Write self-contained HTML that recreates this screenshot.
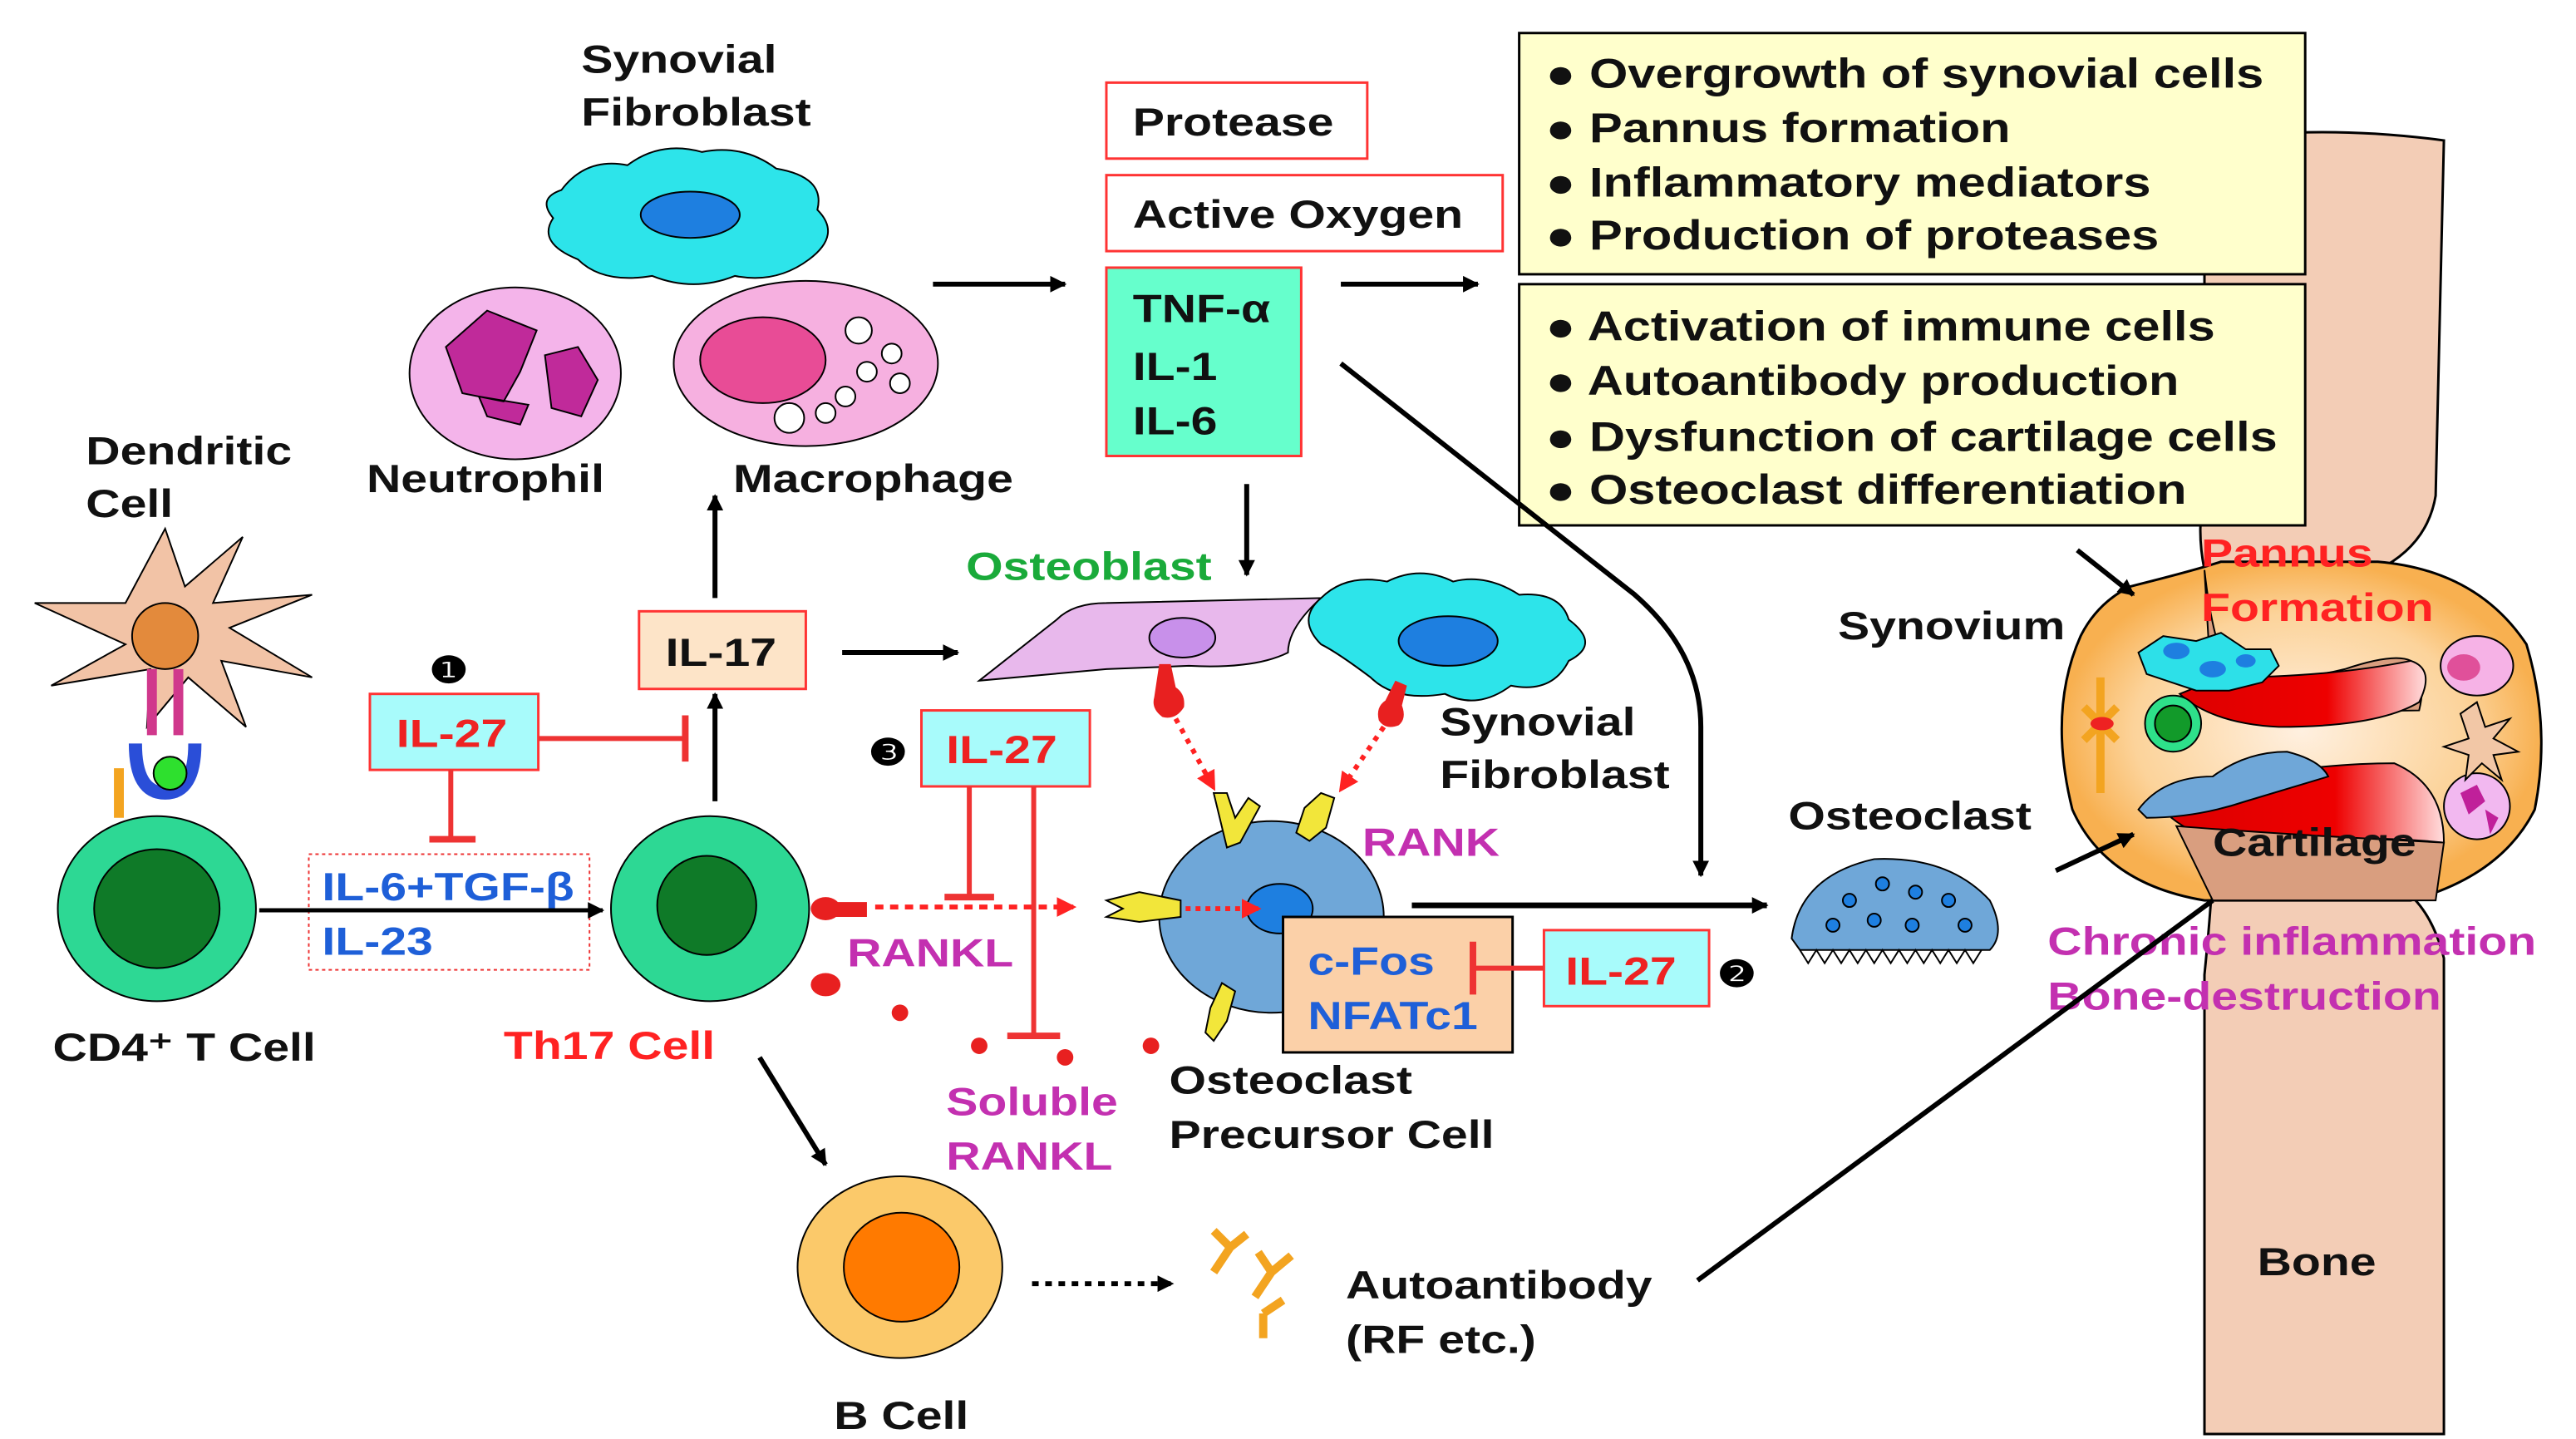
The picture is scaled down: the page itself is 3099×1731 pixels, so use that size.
<!DOCTYPE html>
<html><head><meta charset="utf-8"><style>
html,body{margin:0;padding:0;background:#fff;}
svg{display:block;}
text{font-family:"Liberation Sans",Arial,sans-serif;font-weight:bold;transform-box:fill-box;transform-origin:left center;transform:scaleX(1.2);}
</style></head><body>
<svg width="3099" height="1731" viewBox="0 0 1560 871" preserveAspectRatio="none" xmlns="http://www.w3.org/2000/svg">
<defs>
<marker id="ab" markerWidth="10" markerHeight="10" refX="9" refY="5" orient="auto" markerUnits="userSpaceOnUse"><path d="M0,0 L10,5 L0,10 z" fill="#000"/></marker>
<marker id="ar" markerWidth="12" markerHeight="12" refX="10" refY="6" orient="auto" markerUnits="userSpaceOnUse"><path d="M0,0 L12,6 L0,12 z" fill="#f22"/></marker>
<linearGradient id="red" x1="0" x2="1"><stop offset="0" stop-color="#d00"/><stop offset="0.6" stop-color="#e00"/><stop offset="1" stop-color="#fdd"/></linearGradient>
<radialGradient id="jt" cx="0.5" cy="0.5" r="0.5"><stop offset="0" stop-color="#fff0e0"/><stop offset="0.7" stop-color="#fcd39a"/><stop offset="1" stop-color="#f8b050"/></radialGradient>
</defs>

<!-- Bone -->
<path d="M1335,85 Q1405,75 1480,85 L1475,300 Q1470,330 1440,345 L1440,530 Q1470,540 1480,580 L1480,868 L1335,868 L1335,590 Q1340,540 1340,520 L1335,345 Q1330,320 1335,300 Z" fill="#f3cdb6" stroke="#000" stroke-width="1.5"/>
<!-- joint -->
<path d="M1290,355 Q1330,345 1345,340 L1440,340 Q1500,345 1530,390 Q1545,440 1535,490 Q1515,530 1460,545 L1335,545 Q1275,535 1255,490 Q1240,430 1260,385 Q1270,365 1290,355 Z" fill="url(#jt)" stroke="#000" stroke-width="1.5"/>
<path d="M1335,345 Q1340,390 1350,405 Q1380,415 1420,405 Q1450,395 1460,400 Q1470,410 1465,430 L1340,432 Z" fill="#d99e7f" stroke="#000"/>
<path d="M1345,410 Q1410,410 1460,400 Q1475,405 1465,425 Q1440,440 1380,440 Q1340,438 1320,420 Z" fill="url(#red)" stroke="#000"/>
<path d="M1330,475 Q1400,462 1450,462 Q1480,475 1480,510 Q1430,505 1380,510 Q1340,515 1315,495 Z" fill="url(#red)" stroke="#000"/>
<path d="M1318,500 Q1380,505 1480,510 L1475,545 L1340,545 Z" fill="#d99e7f" stroke="#000"/>
<path d="M1295,395 l15,-10 l20,3 l15,-5 l15,10 l15,0 l5,10 l-10,10 l-20,5 l-20,0 l-15,-5 l-15,-5 z" fill="#2de0e8" stroke="#000"/>
<ellipse cx="1318" cy="394" rx="8" ry="5" fill="#1e7fe0"/><ellipse cx="1340" cy="405" rx="8" ry="5" fill="#1e7fe0"/><ellipse cx="1360" cy="400" rx="6" ry="4" fill="#1e7fe0"/>
<path d="M1295,490 Q1310,470 1340,470 Q1360,455 1385,455 Q1405,460 1410,470 L1360,485 Q1330,495 1300,495 Z" fill="#6fa7d8" stroke="#000"/>
<circle cx="1316" cy="438" r="17" fill="#2ee08a" stroke="#000"/><circle cx="1316" cy="438" r="11" fill="#129a2a" stroke="#000"/>
<path d="M1272,410 L1272,480 M1262,428 L1282,448 M1282,428 L1262,448" stroke="#f3a420" stroke-width="5"/>
<ellipse cx="1273" cy="438" rx="7" ry="4" fill="#e22"/>
<ellipse cx="1500" cy="403" rx="22" ry="18" fill="#f6b2e6" stroke="#000"/><ellipse cx="1492" cy="404" rx="10" ry="8" fill="#e0509a"/>
<circle cx="1500" cy="488" r="20" fill="#f2b8f0" stroke="#000"/><path d="M1490,480 l10,-5 l5,10 l-10,8 z M1505,490 l8,5 l-5,10 z" fill="#c0209a"/>
<path d="M1500,425 l5,15 l15,-5 l-10,12 l15,8 l-15,2 l5,15 l-12,-10 l-10,10 l2,-15 l-15,-5 l15,-5 l-5,-15 z" fill="#f2c7a6" stroke="#000"/>
<text x="1333" y="343" font-size="24" fill="#f22">Pannus</text>
<text x="1333" y="376" font-size="24" fill="#f22">Formation</text>
<text x="1340" y="518" font-size="24" fill="#111">Cartilage</text>
<text x="1367" y="772" font-size="24" fill="#111">Bone</text>
<text x="1240" y="578" font-size="24" fill="#c330b0">Chronic inflammation</text>
<text x="1240" y="611" font-size="24" fill="#c330b0">Bone-destruction</text>
<text x="1113" y="387" font-size="24" fill="#111">Synovium</text>
<line x1="1258" y1="333" x2="1292" y2="360" stroke="#000" stroke-width="3" marker-end="url(#ab)"/>
<line x1="1245" y1="527" x2="1292" y2="505" stroke="#000" stroke-width="3" marker-end="url(#ab)"/>
<line x1="1028" y1="775" x2="1340" y2="545" stroke="#000" stroke-width="3"/>

<!-- yellow boxes -->
<rect x="920" y="20" width="476" height="146" fill="#ffffcc" stroke="#000" stroke-width="1.5"/>
<rect x="920" y="172" width="476" height="146" fill="#ffffcc" stroke="#000" stroke-width="1.5"/>
<g font-size="25" fill="#111">
<text x="936" y="53">● Overgrowth of synovial cells</text>
<text x="936" y="86">● Pannus formation</text>
<text x="936" y="119">● Inflammatory mediators</text>
<text x="936" y="151">● Production of proteases</text>
<text x="936" y="206">● Activation of immune cells</text>
<text x="936" y="239">● Autoantibody production</text>
<text x="936" y="273">● Dysfunction of cartilage cells</text>
<text x="936" y="305">● Osteoclast differentiation</text>
</g>

<!-- top middle -->
<text x="352" y="44" font-size="24" fill="#111">Synovial</text>
<text x="352" y="76" font-size="24" fill="#111">Fibroblast</text>
<path d="M340,115 q15,-20 40,-15 q20,-15 45,-8 q25,-5 45,10 q30,5 25,25 q15,15 -5,30 q-20,15 -45,10 q-25,10 -50,0 q-30,5 -45,-10 q-25,-10 -15,-25 q-10,-12 5,-17 z" fill="#2de4ea" stroke="#000"/>
<ellipse cx="418" cy="130" rx="30" ry="14" fill="#1e7fe0" stroke="#000"/>
<ellipse cx="312" cy="226" rx="64" ry="52" fill="#f4b4ea" stroke="#000"/>
<path d="M270,210 l25,-22 l30,12 l-10,25 l-10,18 l-25,-5 z M330,215 l20,-5 l12,20 l-10,22 l-18,-5 z M290,240 l30,5 l-5,12 l-20,-5 z" fill="#c02a9a" stroke="#000"/>
<ellipse cx="488" cy="220" rx="80" ry="50" fill="#f6b0e0" stroke="#000"/>
<ellipse cx="462" cy="218" rx="38" ry="26" fill="#e84c96" stroke="#000"/>
<g fill="#fff" stroke="#000"><circle cx="520" cy="200" r="8"/><circle cx="540" cy="214" r="6"/><circle cx="525" cy="225" r="6"/><circle cx="545" cy="232" r="6"/><circle cx="512" cy="240" r="6"/><circle cx="478" cy="253" r="9"/><circle cx="500" cy="250" r="6"/></g>
<text x="222" y="298" font-size="24" fill="#111">Neutrophil</text>
<text x="444" y="298" font-size="24" fill="#111">Macrophage</text>
<line x1="565" y1="172" x2="645" y2="172" stroke="#000" stroke-width="3" marker-end="url(#ab)"/>

<rect x="670" y="50" width="158" height="46" fill="#fff" stroke="#f33" stroke-width="1.5"/>
<text x="686" y="82" font-size="24" fill="#111">Protease</text>
<rect x="670" y="106" width="240" height="46" fill="#fff" stroke="#f33" stroke-width="1.5"/>
<text x="686" y="138" font-size="24" fill="#111">Active Oxygen</text>
<rect x="670" y="162" width="118" height="114" fill="#66ffcc" stroke="#f33" stroke-width="1.5"/>
<text x="686" y="195" font-size="24" fill="#111">TNF-α</text>
<text x="686" y="230" font-size="24" fill="#111">IL-1</text>
<text x="686" y="263" font-size="24" fill="#111">IL-6</text>
<line x1="812" y1="172" x2="895" y2="172" stroke="#000" stroke-width="3" marker-end="url(#ab)"/>
<line x1="755" y1="293" x2="755" y2="348" stroke="#000" stroke-width="3" marker-end="url(#ab)"/>
<path d="M812,220 L990,360 Q1030,395 1030,440 L1030,530" fill="none" stroke="#000" stroke-width="3" marker-end="url(#ab)"/>

<!-- dendritic & CD4 -->
<text x="52" y="281" font-size="24" fill="#111">Dendritic</text>
<text x="52" y="313" font-size="24" fill="#111">Cell</text>
<path d="M100,320 l12,35 l35,-30 l-18,40 l60,-5 l-50,20 l50,30 l-55,-10 l15,40 l-35,-30 l-25,30 l2,-35 l-60,10 l45,-25 l-55,-25 l55,0 z" fill="#f2c3a6" stroke="#000"/>
<circle cx="100" cy="385" r="20" fill="#e38a3c" stroke="#000"/>
<path d="M92,405 l0,40 M108,405 l0,40" stroke="#d0388c" stroke-width="6"/>
<path d="M82,450 q0,30 18,30 q18,0 18,-30" fill="none" stroke="#2a4ed8" stroke-width="8"/>
<circle cx="103" cy="468" r="10" fill="#2ee02e" stroke="#000"/>
<path d="M72,465 l0,30" stroke="#f3a420" stroke-width="6"/>
<ellipse cx="95" cy="550" rx="60" ry="56" fill="#2dd894" stroke="#000"/>
<ellipse cx="95" cy="550" rx="38" ry="36" fill="#0f7a28" stroke="#000"/>
<text x="32" y="642" font-size="24" fill="#111">CD4⁺ T Cell</text>

<text x="260" y="413" font-size="22" fill="#000">❶</text>
<rect x="224" y="420" width="102" height="46" fill="#a8fbfb" stroke="#f33" stroke-width="1.5"/>
<text x="240" y="452" font-size="24" fill="#e22">IL-27</text>
<line x1="326" y1="447" x2="415" y2="447" stroke="#e33" stroke-width="3"/>
<line x1="415" y1="433" x2="415" y2="461" stroke="#e33" stroke-width="4"/>
<line x1="273" y1="466" x2="273" y2="508" stroke="#e33" stroke-width="3"/>
<line x1="260" y1="508" x2="288" y2="508" stroke="#e33" stroke-width="4"/>
<rect x="187" y="517" width="170" height="70" fill="none" stroke="#e33" stroke-width="1" stroke-dasharray="2,2"/>
<text x="195" y="545" font-size="24" fill="#1e5fd8">IL-6+TGF-β</text>
<text x="195" y="578" font-size="24" fill="#1e5fd8">IL-23</text>
<line x1="157" y1="551" x2="365" y2="551" stroke="#000" stroke-width="2.5" marker-end="url(#ab)"/>

<!-- Th17 -->
<ellipse cx="430" cy="550" rx="60" ry="56" fill="#2dd894" stroke="#000"/>
<ellipse cx="428" cy="548" rx="30" ry="30" fill="#0f7a28" stroke="#000"/>
<text x="305" y="641" font-size="24" fill="#f22">Th17 Cell</text>
<line x1="433" y1="485" x2="433" y2="420" stroke="#000" stroke-width="3" marker-end="url(#ab)"/>
<rect x="387" y="370" width="101" height="47" fill="#fde4c8" stroke="#f33" stroke-width="1.5"/>
<text x="403" y="403" font-size="24" fill="#111">IL-17</text>
<line x1="433" y1="362" x2="433" y2="300" stroke="#000" stroke-width="3" marker-end="url(#ab)"/>
<line x1="510" y1="395" x2="580" y2="395" stroke="#000" stroke-width="3" marker-end="url(#ab)"/>
<g fill="#e82020"><ellipse cx="500" cy="550" rx="9" ry="7"/><rect x="505" y="546" width="20" height="9"/><ellipse cx="500" cy="596" rx="9" ry="7"/><circle cx="545" cy="613" r="5"/><circle cx="593" cy="633" r="5"/><circle cx="645" cy="640" r="5"/><circle cx="697" cy="633" r="5"/></g>
<line x1="530" y1="549" x2="650" y2="549" stroke="#f22" stroke-width="3" stroke-dasharray="5,4" marker-end="url(#ar)"/>
<text x="513" y="585" font-size="24" fill="#c330b0">RANKL</text>
<text x="573" y="675" font-size="24" fill="#c330b0">Soluble</text>
<text x="573" y="708" font-size="24" fill="#c330b0">RANKL</text>
<text x="526" y="463" font-size="22" fill="#000">❸</text>
<rect x="558" y="430" width="102" height="46" fill="#a8fbfb" stroke="#f33" stroke-width="1.5"/>
<text x="573" y="462" font-size="24" fill="#e22">IL-27</text>
<line x1="587" y1="476" x2="587" y2="543" stroke="#e33" stroke-width="3"/>
<line x1="572" y1="543" x2="602" y2="543" stroke="#e33" stroke-width="4"/>
<line x1="626" y1="476" x2="626" y2="627" stroke="#e33" stroke-width="3"/>
<line x1="610" y1="627" x2="642" y2="627" stroke="#e33" stroke-width="4"/>

<!-- B cell -->
<line x1="460" y1="640" x2="500" y2="705" stroke="#000" stroke-width="3" marker-end="url(#ab)"/>
<ellipse cx="545" cy="767" rx="62" ry="55" fill="#fbc96a" stroke="#000"/>
<ellipse cx="546" cy="767" rx="35" ry="33" fill="#ff7a00" stroke="#000"/>
<text x="505" y="865" font-size="24" fill="#111">B Cell</text>
<line x1="625" y1="777" x2="710" y2="777" stroke="#000" stroke-width="3" stroke-dasharray="4,4" marker-end="url(#ab)"/>
<path d="M735,770 l10,-15 l-10,-10 M745,755 l10,-8 M760,785 l10,-15 l-8,-12 M770,770 l12,-10 M765,795 l0,15 M765,795 l12,-8" stroke="#f3a420" stroke-width="5" fill="none"/>
<text x="815" y="786" font-size="24" fill="#111">Autoantibody</text>
<text x="815" y="819" font-size="24" fill="#111">(RF etc.)</text>

<!-- osteoblast and synovial fibroblast -->
<text x="585" y="351" font-size="24" fill="#1aaa3a">Osteoblast</text>
<path d="M593,412 L640,375 Q650,365 670,365 L800,362 Q780,380 780,395 Q760,405 720,403 L670,405 Z" fill="#e8b8ec" stroke="#000"/>
<ellipse cx="716" cy="386" rx="20" ry="12" fill="#c890ea" stroke="#000"/>
<path d="M800,362 q15,-15 40,-10 q20,-10 40,0 q20,-5 40,8 q25,-2 30,15 q20,15 0,25 q-10,20 -35,15 q-20,15 -40,5 q-30,5 -45,-10 q-20,-15 -30,-20 q-15,-15 0,-28 z" fill="#2de4ea" stroke="#000"/>
<ellipse cx="877" cy="388" rx="30" ry="15" fill="#1e7fe0" stroke="#000"/>
<g fill="#e82020"><path d="M702,402 l7,0 l3,14 q6,4 5,12 q-5,8 -13,6 q-7,-5 -5,-12 z"/><path d="M845,412 l7,3 l-3,12 q3,8 -2,12 q-8,3 -12,-3 q-2,-8 4,-12 z"/></g>
<line x1="712" y1="435" x2="735" y2="477" stroke="#f22" stroke-width="3" stroke-dasharray="3,4" marker-end="url(#ar)"/>
<line x1="838" y1="440" x2="812" y2="478" stroke="#f22" stroke-width="3" stroke-dasharray="3,4" marker-end="url(#ar)"/>
<text x="872" y="445" font-size="24" fill="#111">Synovial</text>
<text x="872" y="477" font-size="24" fill="#111">Fibroblast</text>
<text x="825" y="518" font-size="24" fill="#c330b0">RANK</text>

<!-- osteoclast precursor -->
<ellipse cx="770" cy="555" rx="68" ry="58" fill="#6fa7d8" stroke="#000"/>
<ellipse cx="775" cy="550" rx="20" ry="15" fill="#1e7fe0" stroke="#000"/>
<g fill="#f2e63a" stroke="#000"><path d="M735,480 l8,0 l5,15 l8,-12 l7,5 l-12,22 l-8,3 z"/><path d="M800,480 l8,3 l-5,18 l-10,8 l-8,-5 l5,-15 z"/><path d="M670,545 l20,-5 l25,5 l0,10 l-25,3 l-20,-3 l10,-5 z"/><path d="M740,595 l8,5 l-5,18 l-8,12 l-5,-5 l3,-15 z"/></g>
<line x1="718" y1="550" x2="762" y2="550" stroke="#f22" stroke-width="3" stroke-dasharray="3,3" marker-end="url(#ar)"/>
<rect x="777" y="555" width="139" height="82" fill="#fbd0a8" stroke="#000" stroke-width="1.5"/>
<text x="792" y="590" font-size="24" fill="#1e5fd8">c-Fos</text>
<text x="792" y="623" font-size="24" fill="#1e5fd8">NFATc1</text>
<text x="708" y="662" font-size="24" fill="#111">Osteoclast</text>
<text x="708" y="695" font-size="24" fill="#111">Precursor Cell</text>
<line x1="855" y1="548" x2="1070" y2="548" stroke="#000" stroke-width="3.5" marker-end="url(#ab)"/>
<rect x="935" y="563" width="100" height="46" fill="#a8fbfb" stroke="#f33" stroke-width="1.5"/>
<text x="948" y="596" font-size="24" fill="#e22">IL-27</text>
<line x1="935" y1="586" x2="892" y2="586" stroke="#e33" stroke-width="3"/>
<line x1="892" y1="570" x2="892" y2="602" stroke="#e33" stroke-width="4"/>
<text x="1040" y="597" font-size="22" fill="#000">❷</text>

<!-- osteoclast -->
<text x="1083" y="502" font-size="24" fill="#111">Osteoclast</text>
<path d="M1085,568 Q1090,530 1135,520 Q1180,518 1205,545 Q1215,565 1205,575 L1090,575 Z" fill="#6fa7d8" stroke="#000"/>
<path d="M1090,575 l5,8 l5,-8 l5,8 l5,-8 l5,8 l5,-8 l5,8 l5,-8 l5,8 l5,-8 l5,8 l5,-8 l5,8 l5,-8 l5,8 l5,-8 l5,8 l5,-8 l5,8 l5,-8 l5,8 l5,-8" fill="none" stroke="#000"/>
<g fill="#1e7fe0" stroke="#000"><circle cx="1120" cy="545" r="4"/><circle cx="1140" cy="535" r="4"/><circle cx="1160" cy="540" r="4"/><circle cx="1180" cy="545" r="4"/><circle cx="1110" cy="560" r="4"/><circle cx="1135" cy="557" r="4"/><circle cx="1158" cy="560" r="4"/><circle cx="1190" cy="560" r="4"/></g>
</svg>
</body></html>
